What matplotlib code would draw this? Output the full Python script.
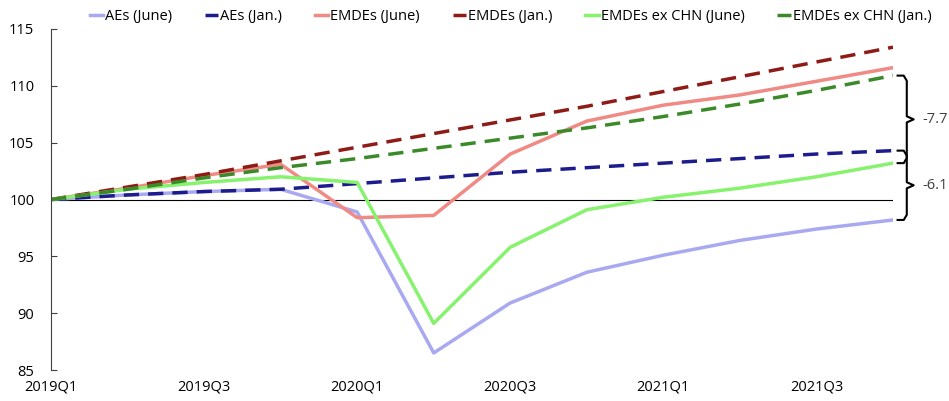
import matplotlib
matplotlib.use("Agg")
import matplotlib.pyplot as plt

quarters = ["2019Q1", "2019Q2", "2019Q3", "2019Q4", "2020Q1", "2020Q2",
            "2020Q3", "2020Q4", "2021Q1", "2021Q2", "2021Q3", "2021Q4"]
aes_june = [100, 100.4, 100.7, 100.9, 98.9, 86.5, 90.9, 93.6, 95.1, 96.4, 97.4, 98.2]
aes_jan = [100, 100.4, 100.7, 100.9, 101.4, 101.9, 102.4, 102.8, 103.2, 103.6, 104.0, 104.3]
emdes_june = [100, 101.0, 102.1, 103.1, 98.4, 98.6, 104.0, 106.9, 108.3, 109.2, 110.4, 111.6]
emdes_jan = [100, 101.1, 102.2, 103.4, 104.6, 105.8, 107.0, 108.2, 109.5, 110.8, 112.1, 113.4]
exchn_june = [100, 100.9, 101.5, 102.0, 101.5, 89.1, 95.8, 99.1, 100.2, 101.0, 102.0, 103.2]
exchn_jan = [100, 100.9, 101.9, 102.8, 103.6, 104.5, 105.4, 106.3, 107.3, 108.4, 109.6, 110.9]
gap_labels = ["-7.7", "-6.1"]

plt.rcParams['font.family'] = ['Open Sans', 'DejaVu Sans']

fig = plt.figure(figsize=(9.49, 4.01), dpi=100)
ax = fig.add_axes([51/949, 1-370/401, (893-51)/949, (370-29)/401])

x = list(range(len(quarters)))
lw = 2.5
dash = (4.4, 2.6)
ax.plot(x, aes_june, color="#A9A9F2", lw=lw, label="AEs (June)")
ax.plot(x, aes_jan, color="#1C1C8C", lw=lw, ls=(0, dash), label="AEs (Jan.)")
ax.plot(x, emdes_june, color="#F08A84", lw=lw, label="EMDEs (June)")
ax.plot(x, emdes_jan, color="#8E1B16", lw=lw, ls=(0, dash), label="EMDEs (Jan.)")
ax.plot(x, exchn_june, color="#86F26E", lw=lw, label="EMDEs ex CHN (June)")
ax.plot(x, exchn_jan, color="#3B8A2A", lw=lw, ls=(0, dash), label="EMDEs ex CHN (Jan.)")
ax.plot([0, len(quarters)-1], [100, 100], color="black", lw=0.8, zorder=1)

ax.set_xlim(0, len(quarters)-1)
ax.set_ylim(85, 115)
ax.set_yticks(range(85, 116, 5))
ax.set_xticks(x[::2])
ax.set_xticklabels(quarters[::2])
for s in ["top", "right", "bottom"]:
    ax.spines[s].set_visible(False)
ax.spines["left"].set_color("#404040")
ax.tick_params(axis="y", direction="in", length=4, labelsize=10.5, colors="#404040", labelcolor="black", pad=12)
ax.tick_params(axis="x", length=0, labelsize=10.5, pad=7)

def brace(ytop, ybot, label):
    x0, x1, x2 = 11.06, 11.18, 11.27
    d = 0.45
    ym = (ytop + ybot) / 2
    xs = [x0, x1 - 0.04, x1, x1, x2, x1, x1, x1 - 0.04, x0]
    ys = [ytop, ytop, ytop - d, ym + d * 0.6, ym, ym - d * 0.6, ybot + d, ybot, ybot]
    ax.plot(xs, ys, color="black", lw=1.5, clip_on=False, solid_joinstyle="round")
    ax.text(11.38, ym, label, va="center", ha="left", fontsize=10.5, color="#404040", clip_on=False)

brace(exchn_jan[-1], exchn_june[-1], gap_labels[0])
brace(aes_jan[-1], aes_june[-1], gap_labels[1])

leg = fig.legend(loc="upper center", bbox_to_anchor=(0.538, 1.01), ncol=6, frameon=False,
                 fontsize=10.5, handlelength=0.9, handletextpad=0.15, columnspacing=2.25)

fig.savefig("out.png", dpi=100)
